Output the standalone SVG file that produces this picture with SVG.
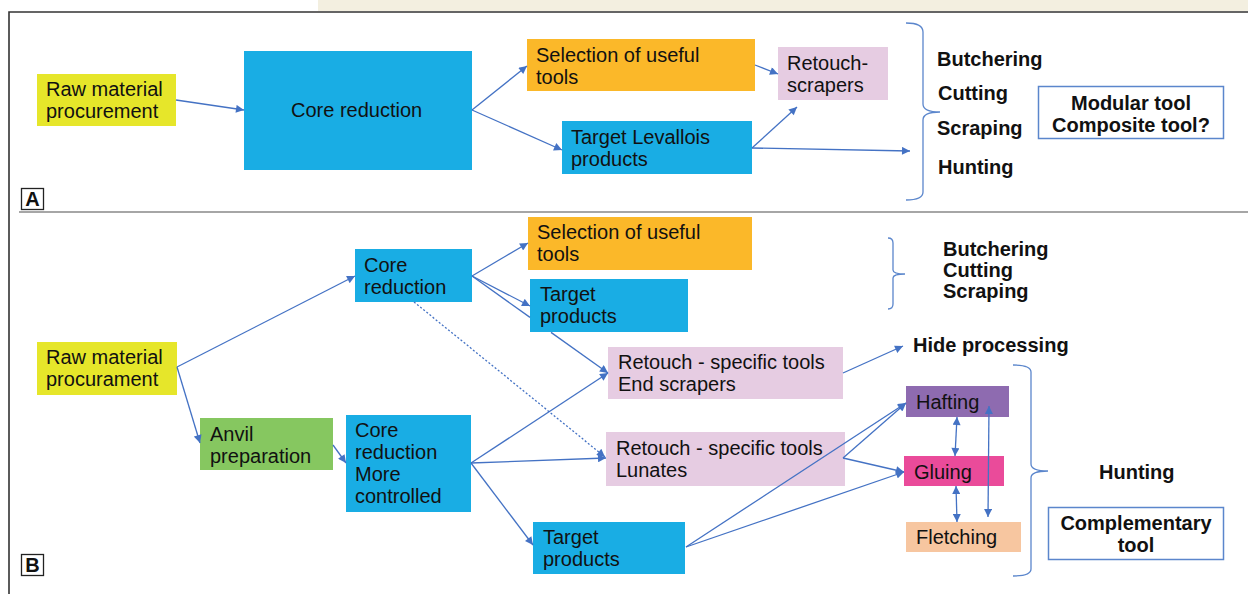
<svg xmlns="http://www.w3.org/2000/svg" width="1248" height="594" viewBox="0 0 1248 594">
<defs>
<marker id="ah" viewBox="0 0 10 10" refX="10" refY="5" markerWidth="10" markerHeight="8" markerUnits="userSpaceOnUse" orient="auto-start-reverse">
<path d="M0,0 L10,5 L0,10 z" fill="#4472C4"/>
</marker>
<style>
.t{font-family:"Liberation Sans",Arial,sans-serif;font-size:20px;fill:#111}
.b{font-family:"Liberation Sans",Arial,sans-serif;font-size:20px;font-weight:bold;fill:#111}
.c{stroke:#4472C4;stroke-width:1.3;fill:none}
.br{stroke:#5b86cc;stroke-width:1.3;fill:none}
.yel{fill:#E6E62A}
.blu{fill:#19ADE4}
.org{fill:#FBB829}
.pnk{fill:#E6CCE2}
.box{fill:#fff;stroke:#5b86cc;stroke-width:1.5}
</style>
</defs>
<rect x="0" y="0" width="1248" height="594" fill="#fff"/>
<rect x="318" y="0" width="930" height="11" fill="#F3EFE0"/>
<g id="frame">
<path d="M9,594 L9,12 L1248,12" stroke="#333" stroke-width="1.6" fill="none"/>
<line x1="19" y1="212" x2="1248" y2="212" stroke="#888" stroke-width="1.5"/>
<rect x="21.5" y="188.5" width="22" height="21" fill="#fff" stroke="#222" stroke-width="1.3"/>
<text x="32.5" y="206" class="b" font-size="18" text-anchor="middle">A</text>
<rect x="21.5" y="554.5" width="22" height="21" fill="#fff" stroke="#222" stroke-width="1.3"/>
<text x="32.5" y="572" class="b" font-size="18" text-anchor="middle">B</text>
</g>
<g id="A-raw"><rect class="yel" x="37" y="74" width="139" height="52"/><text class="t" x="46" y="96">Raw material</text><text class="t" x="46" y="118">procurement</text></g>
<g id="A-core"><rect class="blu" x="244" y="51" width="228" height="119"/><text class="t" x="291" y="117">Core reduction</text></g>
<g id="A-selection"><rect class="org" x="527" y="39" width="228" height="52"/><text class="t" x="536" y="62">Selection of useful</text><text class="t" x="536" y="84">tools</text></g>
<g id="A-target"><rect class="blu" x="562" y="121" width="190" height="53"/><text class="t" x="571" y="144">Target Levallois</text><text class="t" x="571" y="166">products</text></g>
<g id="A-retouch"><rect class="pnk" x="778" y="47" width="110" height="53"/><text class="t" x="787" y="70">Retouch-</text><text class="t" x="787" y="92">scrapers</text></g>
<g id="A-uses"><text class="b" x="937" y="66">Butchering</text><text class="b" x="938" y="100">Cutting</text><text class="b" x="937" y="135">Scraping</text><text class="b" x="938" y="174">Hunting</text></g>
<g id="A-modular"><rect class="box" x="1038.5" y="86.5" width="185" height="52"/><text class="b" x="1131" y="110" text-anchor="middle">Modular tool</text><text class="b" x="1131" y="132" text-anchor="middle">Composite tool?</text></g>
<g id="B-raw"><rect class="yel" x="37" y="342" width="140" height="53"/><text class="t" x="46" y="364">Raw material</text><text class="t" x="46" y="386">procurament</text></g>
<g id="B-core"><rect class="blu" x="355" y="249" width="117" height="53"/><text class="t" x="364" y="272">Core</text><text class="t" x="364" y="294">reduction</text></g>
<g id="B-anvil"><rect fill="#86C760" x="200" y="418" width="133" height="52"/><text class="t" x="210" y="441">Anvil</text><text class="t" x="210" y="463">preparation</text></g>
<g id="B-core2"><rect class="blu" x="346" y="415" width="125" height="97"/><text class="t" x="355" y="437">Core</text><text class="t" x="355" y="459">reduction</text><text class="t" x="355" y="481">More</text><text class="t" x="355" y="503">controlled</text></g>
<g id="B-selection"><rect class="org" x="528" y="217" width="224" height="53"/><text class="t" x="537" y="239">Selection of useful</text><text class="t" x="537" y="261">tools</text></g>
<g id="B-target1"><rect class="blu" x="530" y="279" width="158" height="53"/><text class="t" x="540" y="301">Target</text><text class="t" x="540" y="323">products</text></g>
<g id="B-endscrapers"><rect class="pnk" x="608" y="347" width="235" height="52"/><text class="t" x="618" y="369">Retouch - specific tools</text><text class="t" x="618" y="391">End scrapers</text></g>
<g id="B-lunates"><rect class="pnk" x="606" y="432" width="239" height="54"/><text class="t" x="616" y="455">Retouch - specific tools</text><text class="t" x="616" y="477">Lunates</text></g>
<g id="B-target2"><rect class="blu" x="533" y="522" width="152" height="52"/><text class="t" x="543" y="544">Target</text><text class="t" x="543" y="566">products</text></g>
<g id="B-hafting"><rect fill="#8E6BB0" x="906" y="386" width="103" height="31"/><text class="t" x="916" y="409">Hafting</text></g>
<g id="B-gluing"><rect fill="#EA4B9A" x="904" y="456" width="100" height="30"/><text class="t" x="914" y="479">Gluing</text></g>
<g id="B-fletching"><rect fill="#F7C6A0" x="906" y="522" width="115" height="30"/><text class="t" x="916" y="544">Fletching</text></g>
<g id="B-hide"><text class="b" x="913" y="352">Hide processing</text></g>
<g id="B-uses"><text class="b" x="943" y="256">Butchering</text><text class="b" x="943" y="277">Cutting</text><text class="b" x="943" y="298">Scraping</text></g>
<g id="B-hunting"><text class="b" x="1099" y="479">Hunting</text></g>
<g id="B-complementary"><rect class="box" x="1048.5" y="507.5" width="175" height="52"/><text class="b" x="1136" y="530" text-anchor="middle">Complementary</text><text class="b" x="1136" y="552" text-anchor="middle">tool</text></g>
<g id="connectors">
<line class="c" x1="176" y1="100" x2="244" y2="110" marker-end="url(#ah)"/>
<line class="c" x1="472" y1="110" x2="527" y2="66" marker-end="url(#ah)"/>
<line class="c" x1="472" y1="110" x2="562" y2="150" marker-end="url(#ah)"/>
<line class="c" x1="755" y1="65" x2="778" y2="74" marker-end="url(#ah)"/>
<line class="c" x1="752" y1="148" x2="797" y2="107" marker-end="url(#ah)"/>
<line class="c" x1="752" y1="148" x2="910" y2="151" marker-end="url(#ah)"/>
<path class="br" d="M906,23 Q923,23 923,32 L923,104 Q923,112 940,112 Q923,112 923,120 L923,192 Q923,200 906,200"/>
<line class="c" x1="177" y1="367" x2="355" y2="276" marker-end="url(#ah)"/>
<line class="c" x1="177" y1="367" x2="200" y2="443" marker-end="url(#ah)"/>
<line class="c" x1="333" y1="445" x2="346" y2="463" marker-end="url(#ah)"/>
<line class="c" x1="472" y1="276" x2="528" y2="243" marker-end="url(#ah)"/>
<line class="c" x1="472" y1="276" x2="530" y2="306" marker-end="url(#ah)"/>
<line class="c" x1="472" y1="276" x2="530" y2="317.4"/>
<line class="c" x1="551" y1="332.4" x2="608" y2="373" marker-end="url(#ah)"/>
<line class="c" x1="414" y1="302" x2="605" y2="457" stroke-width="1" stroke-dasharray="2,2" marker-end="url(#ah)"/>
<line class="c" x1="471" y1="463" x2="608" y2="373" marker-end="url(#ah)"/>
<line class="c" x1="471" y1="463" x2="606" y2="458" marker-end="url(#ah)"/>
<line class="c" x1="471" y1="463" x2="533" y2="545" marker-end="url(#ah)"/>
<line class="c" x1="843" y1="373" x2="903" y2="346" marker-end="url(#ah)"/>
<line class="c" x1="843" y1="458" x2="906" y2="403" marker-end="url(#ah)"/>
<line class="c" x1="843" y1="458" x2="904" y2="472" marker-end="url(#ah)"/>
<line class="c" x1="686" y1="547" x2="906" y2="403" marker-end="url(#ah)"/>
<line class="c" x1="686" y1="547" x2="904" y2="472" marker-end="url(#ah)"/>
<line class="c" x1="957" y1="417" x2="955" y2="456" marker-start="url(#ah)" marker-end="url(#ah)"/>
<line class="c" x1="956" y1="486" x2="957" y2="522" marker-start="url(#ah)" marker-end="url(#ah)"/>
<line class="c" x1="989" y1="406" x2="988" y2="517" marker-start="url(#ah)" marker-end="url(#ah)"/>
<path class="br" d="M888,238 Q893,238 893,243 L893,270 Q893,274 905,274 Q893,274 893,278 L893,304 Q893,309 888,309"/>
<path class="br" d="M1013,365 Q1031,365 1031,372 L1031,464 Q1031,471 1048,471 Q1031,471 1031,478 L1031,569 Q1031,576 1013,576"/>
</g>
</svg>
